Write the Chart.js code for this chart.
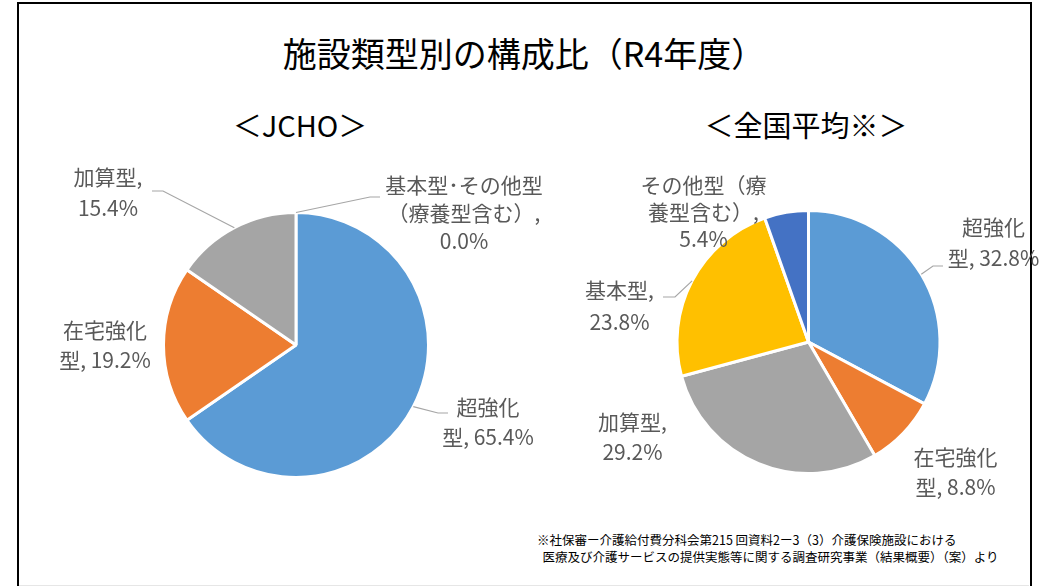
<!DOCTYPE html>
<html lang="ja">
<head>
<meta charset="utf-8">
<script src="https://cdn.jsdelivr.net/npm/chart.js@4"></script>
<style>
  html, body { margin: 0; padding: 0; background: #fff; }
  body { width: 1044px; height: 586px; position: relative; overflow: hidden;
         font-family: "Noto Sans CJK JP", "Noto Sans", sans-serif; }
  .frame { position: absolute; left: 17px; top: 2px; width: 1011px; height: 600px;
           border: 2px solid #000; border-bottom: none; }
  .bottomline { position: absolute; left: 19px; top: 585px; width: 1010px; height: 1px; background: #e6e6e6; }
  .txt { position: absolute; white-space: nowrap; color: #000; transform: translate(-50%, -50%); }
  #title { left: 524px; top: 52px; font-size: 34px; }
  #subL { left: 300px; top: 124px; font-size: 29px; }
  #subR { left: 806px; top: 124px; font-size: 29px; }
  #note { position: absolute; left: 537px; top: 531px; font-size: 12.5px; line-height: 17px; color: #000; white-space: nowrap; }
  canvas { position: absolute; }
  #cL { left: 20px; top: 140px; }
  #cR { left: 530px; top: 140px; }
</style>
</head>
<body>
<div class="frame"></div>
<div class="bottomline"></div>
<div class="txt" id="title">施設類型別の構成比（R4年度）</div>
<div class="txt" id="subL">＜JCHO＞</div>
<div class="txt" id="subR">＜全国平均※＞</div>
<div id="note">※社保審ー介護給付費分科会第215 回資料2ー3（3）介護保険施設における<br>&nbsp;&nbsp;医療及び介護サービスの提供実態等に関する調査研究事業（結果概要）（案）より</div>
<canvas id="cL" width="560" height="380"></canvas>
<canvas id="cR" width="514" height="380"></canvas>
<script>
// ==== Données
const jchoLabels = ["超強化型", "在宅強化型", "加算型", "基本型･その他型（療養型含む）"];
const jchoValues = [65.4, 19.2, 15.4, 0.0];
const jchoColors = ["#5B9BD5", "#ED7D31", "#A5A5A5", "#FFC000"];

const zenkokuLabels = ["超強化型", "在宅強化型", "加算型", "基本型", "その他型（療養型含む）"];
const zenkokuValues = [32.8, 8.8, 29.2, 23.8, 5.4];
const zenkokuColors = ["#5B9BD5", "#ED7D31", "#A5A5A5", "#FFC000", "#4472C4"];

// ==== Mise en page (centre du camembert dans le canvas, rayon)
const layoutL = { w: 560, h: 380, cx: 276, cy: 205, r: 132.5 };
const layoutR = { w: 514, h: 380, cx: 278.5, cy: 202, r: 131.5 };

// position des étiquettes, relative au centre : dx, dy (1re ligne), coupures, ligne de rappel
const labelPosL = [
  { dx: 192, dy: 62, lh: 30, breaks: [3], leader: [[142, 68], [152, 68]] },
  { dx: -191, dy: -15, lh: 30, breaks: [4] },
  { dx: -188, dy: -168, lh: 31, breaks: [4], leader: [[-133, -154], [-144, -154]] },
  { dx: 168, dy: -160, lh: 28, breaks: [8, 16], leader: [[74, -148], [84, -148]] },
];
const labelPosR = [
  { dx: 185, dy: -115, lh: 31, breaks: [3], leader: [[124.5, -76], [134.5, -76]] },
  { dx: 147, dy: 115, lh: 30, breaks: [4] },
  { dx: -176, dy: 80, lh: 30, breaks: [4] },
  { dx: -189, dy: -52, lh: 32, breaks: [4], leader: [[-133.5, -45], [-145.5, -45]] },
  { dx: -105, dy: -157, lh: 27, breaks: [6, 12] },
];

// ==== Helpers
function splitLabel(text, breaks) {
  const lines = [];
  let start = 0;
  breaks.forEach(b => { lines.push(text.slice(start, b).trim()); start = b; });
  lines.push(text.slice(start).trim());
  return lines;
}

const outLabels = {
  id: "outLabels",
  afterDatasetsDraw(chart, args, opts) {
    const ctx = chart.ctx;
    const meta = chart.getDatasetMeta(0);
    const labels = chart.data.labels;
    const values = chart.data.datasets[0].data;
    ctx.save();
    meta.data.forEach((arc, i) => {
      const p = opts.items[i];
      if (!p) return;
      const cx = arc.x, cy = arc.y;
      if (p.leader) {
        const mid = (arc.startAngle + arc.endAngle) / 2;
        const sx = cx + Math.cos(mid) * arc.outerRadius;
        const sy = cy + Math.sin(mid) * arc.outerRadius;
        ctx.strokeStyle = "#A6A6A6";
        ctx.lineWidth = 1.2;
        ctx.beginPath();
        ctx.moveTo(sx, sy);
        p.leader.forEach(pt => ctx.lineTo(cx + pt[0], cy + pt[1]));
        ctx.stroke();
      }
      const text = labels[i] + ", " + values[i].toFixed(1) + "%";
      const lines = splitLabel(text, p.breaks);
      ctx.fillStyle = "#595959";
      ctx.font = '21px "Noto Sans CJK JP", sans-serif';
      ctx.textAlign = "center";
      ctx.textBaseline = "middle";
      lines.forEach((ln, k) => ctx.fillText(ln, cx + p.dx, cy + p.dy + k * p.lh));
    });
    ctx.restore();
  },
};

function makePie(id, labels, values, colors, lay, items) {
  const size = 2 * lay.r + 3;
  return new Chart(document.getElementById(id), {
    type: "pie",
    data: {
      labels: labels,
      datasets: [{ data: values, backgroundColor: colors, borderColor: "#fff", borderWidth: 3 }],
    },
    options: {
      responsive: false,
      animation: false,
      layout: {
        padding: {
          left: lay.cx - size / 2,
          right: lay.w - lay.cx - size / 2,
          top: lay.cy - size / 2,
          bottom: lay.h - lay.cy - size / 2,
        },
      },
      plugins: {
        legend: { display: false },
        tooltip: { enabled: false },
        outLabels: { items: items },
      },
    },
    plugins: [outLabels],
  });
}

makePie("cL", jchoLabels, jchoValues, jchoColors, layoutL, labelPosL);
makePie("cR", zenkokuLabels, zenkokuValues, zenkokuColors, layoutR, labelPosR);
</script>
</body>
</html>
